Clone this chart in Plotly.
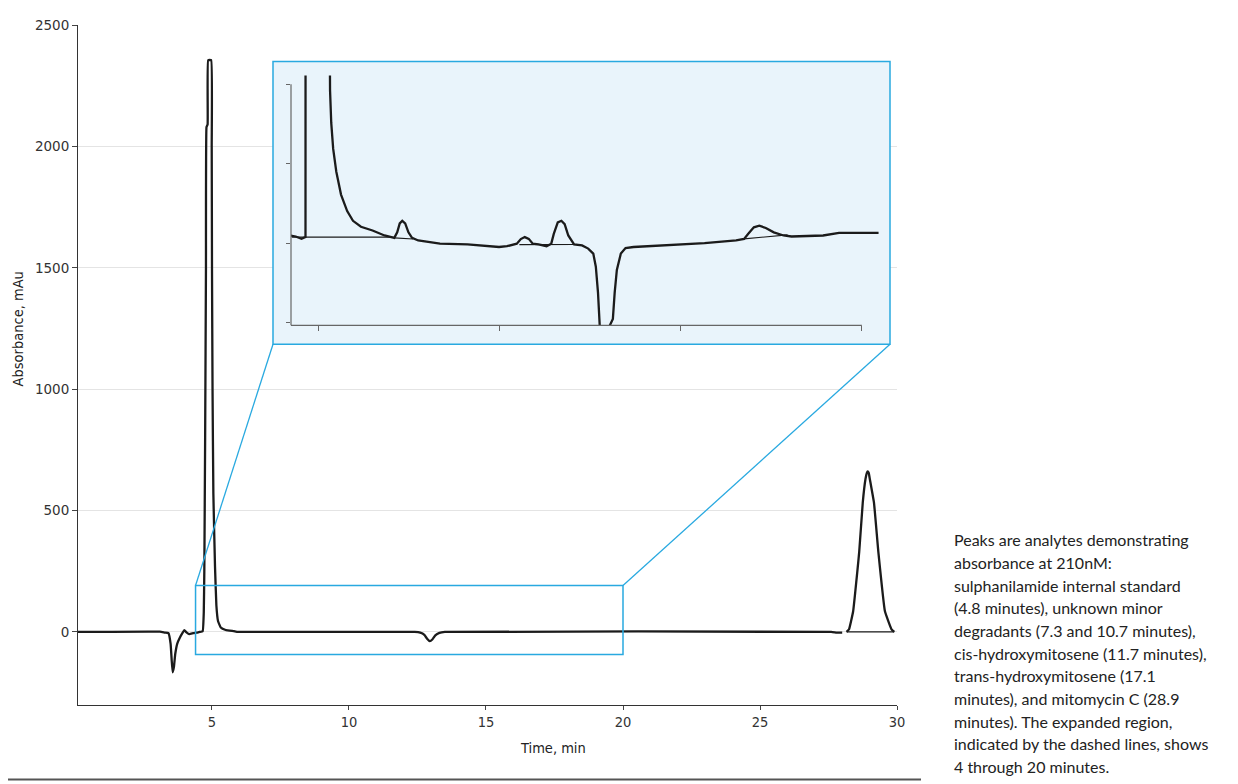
import plotly.graph_objects as go

# ---------------- data ----------------
# main chromatogram: time (min) / absorbance (mAu)
main_time = [0.11, 3.10, 3.28, 3.41, 3.49, 3.53, 3.565, 3.61, 3.66, 3.73, 3.83, 3.93, 3.99,
             4.08, 4.17, 4.32, 4.44, 4.55, 4.66, 4.70, 4.72, 4.75, 4.78, 4.80, 4.84, 4.86,
             4.97, 4.99, 5.00, 5.02, 5.05, 5.11, 5.16, 5.22, 5.32, 5.50, 5.80, 5.95,
             12.40, 12.60, 12.75, 12.85, 12.95, 13.05, 13.15, 13.30, 13.50,
             27.60, 27.80, 28.00, None,
             28.16, 28.25, 28.40, 28.62, 28.75, 28.85, 28.90, 28.93, 28.97, 29.00, 29.16,
             29.32, 29.56, 29.80, 29.90]
main_abs = [0, 1, -3, -5, -49, -118, -166, -145, -90, -49, -23, -3, 7,
            -3, -9, -5, -3, 0, 3, 80, 250, 800, 1500, 2080, 2090, 2355,
            2355, 2000, 1500, 1000, 570, 270, 110, 45, 18, 8, 3, 0,
            0, -3, -12, -28, -38, -30, -14, -4, 0,
            0, -3, -3, None,
            0, 11, 85, 329, 532, 630, 655, 661, 655, 635, 532,
            329, 85, 11, 0]
# integration baseline under the mitomycin C peak
main_base_time = [28.16, 29.90]
main_base_abs = [0, 0]

# expanded region (inset), 4-20 min
inset_time = [4.22, 4.38, 4.54, 4.63, 4.65, 4.68, 5.28, 5.305, 5.327, 5.36, 5.414, 5.50,
              5.63, 5.80, 5.96, 6.18, 6.50, 6.83, 7.05, 7.10, 7.18, 7.25, 7.32, 7.40,
              7.49, 7.59, 7.76, 8.36, 9.12, 9.99, 10.21, 10.48, 10.59, 10.70, 10.81,
              10.92, 11.08, 11.30, 11.43, 11.50, 11.61, 11.71, 11.80, 11.90, 12.06,
              12.28, 12.45, 12.59, 12.66, 12.72, 12.77, 12.88, 13.02, 13.13, 13.18,
              13.24, 13.35, 13.48, 13.70, 14.57, 15.66, 16.53, 16.75, 16.86, 17.02,
              17.17, 17.35, 17.57, 17.84, 18.06, 18.93, 19.37, 20.02, 20.46]
inset_abs = [3.8, 3.3, 2.1, 2.6, 3.0, 2355, 2355, 84.4, 77.0, 60.6, 47.4, 35.9,
             24.4, 16.1, 11.2, 8.2, 6.3, 3.8, 2.5, 2.6, 5.4, 9.9, 11.2, 9.9,
             5.4, 2.6, 1.3, -0.3, -0.7, -2.0, -1.6, -0.3, 2.0, 3.0, 2.1,
             -0.3, -0.7, -1.6, -0.3, 4.6, 10.4, 11.2, 9.5, 3.8, -0.7,
             -1.2, -2.8, -5.3, -11.9, -25.0, -42.5, -43.0, -42.5, -38.2, -25.0,
             -13.5, -5.3, -2.5, -2.0, -1.2, 0.0, 1.3, 2.1, 4.6, 7.9,
             8.7, 7.6, 5.4, 3.8, 3.3, 3.8, 5.1, 5.1, 5.1]
# integration baselines drawn in the inset (segments split by None)
inset_base_time = [4.27, 7.05, None, 7.10, 7.62, None, 10.55, 12.06, None, 16.75, 17.95]
inset_base_abs = [3.0, 3.0, None, 2.6, 2.0, None, -0.8, -0.7, None, 2.1, 4.1]

x_ticks = [5, 10, 15, 20, 25, 30]
y_ticks = [0, 500, 1000, 1500, 2000, 2500]
inset_x_ticks = [5, 10, 15, 20]
inset_y_ticks = [-40, 0, 40, 80]

zoom_start, zoom_end = 4.4, 20.0
zoom_low, zoom_high = -93, 191

caption_lines = [
    "Peaks are analytes demonstrating",
    "absorbance at 210nM:",
    "sulphanilamide internal standard",
    "(4.8 minutes), unknown minor",
    "degradants (7.3 and 10.7 minutes),",
    "cis-hydroxymitosene (11.7 minutes),",
    "trans-hydroxymitosene (17.1",
    "minutes), and mitomycin C (28.9",
    "minutes). The expanded region,",
    "indicated by the dashed lines, shows",
    "4 through 20 minutes.",
]

# ---------------- layout geometry (page pixels) ----------------
W, H = 1238, 784
PAGE_OFF = 8          # default body margin of the html page
L, R, T, B = 78, 341, 17, 79
PW, PH = W - L - R, H - T - B
X_RANGE = [0.11, 30]
Y_RANGE = [-301, 2500]


def px2x(px):
    return X_RANGE[0] + (px - L) / PW * (X_RANGE[1] - X_RANGE[0])


def py2y(py):
    return Y_RANGE[0] + (H - B - py) / PH * (Y_RANGE[1] - Y_RANGE[0])


def pxp(px):
    return (px - L) / PW


def pyp(py):
    return (H - B - py) / PH


BLUE = "#29a9e0"
INK = "#1b1b1b"
COND = "DejaVu Sans Condensed, Liberation Sans Narrow, Roboto Condensed, sans-serif"

fig = go.Figure()
fig.add_trace(go.Scatter(x=main_time, y=main_abs, mode="lines",
                         line=dict(color=INK, width=2.3, shape="spline", smoothing=0.3),
                         connectgaps=False, hoverinfo="skip", showlegend=False))
fig.add_trace(go.Scatter(x=main_base_time, y=main_base_abs, mode="lines",
                         line=dict(color=INK, width=1.2), hoverinfo="skip",
                         showlegend=False))
fig.add_trace(go.Scatter(x=inset_base_time, y=inset_base_abs, mode="lines",
                         line=dict(color=INK, width=1.1), connectgaps=False,
                         xaxis="x2", yaxis="y2", hoverinfo="skip", showlegend=False))
fig.add_trace(go.Scatter(x=inset_time, y=inset_abs, mode="lines",
                         line=dict(color=INK, width=2.3), xaxis="x2", yaxis="y2",
                         hoverinfo="skip", showlegend=False))

INSET_X_RANGE = [4.25, 20.5]
INSET_Y_RANGE = [-41.5, 84.4]

fig.update_layout(
    width=W - PAGE_OFF, height=H - PAGE_OFF,
    margin=dict(l=L - PAGE_OFF, r=R, t=T - PAGE_OFF, b=B),
    paper_bgcolor="white", plot_bgcolor="rgba(0,0,0,0)",
    showlegend=False,
    xaxis=dict(range=X_RANGE, tickvals=x_ticks, ticks="outside", ticklen=4,
               tickcolor="#444", showline=True, linecolor="#333", linewidth=1,
               showgrid=False, zeroline=False,
               tickfont=dict(family=COND, size=14.5, color="#333")),
    yaxis=dict(range=Y_RANGE, tickvals=y_ticks, ticks="outside", ticklen=5,
               tickcolor="#444", showline=True, linecolor="#333", linewidth=1,
               showgrid=True, gridcolor="#e4e4e4", gridwidth=1, zeroline=False,
               tickfont=dict(family="DejaVu Sans, sans-serif", size=13.5, color="#333")),
    xaxis2=dict(domain=[pxp(291), pxp(880)], anchor="y2", range=INSET_X_RANGE,
                tickvals=inset_x_ticks, ticks="outside", ticklen=5, tickcolor="#666",
                showticklabels=False, showline=False, showgrid=False, zeroline=False),
    yaxis2=dict(domain=[pyp(321), pyp(68)], anchor="x2", range=INSET_Y_RANGE,
                tickvals=inset_y_ticks, ticks="outside", ticklen=4, tickcolor="#666",
                showticklabels=False, showline=False, showgrid=False, zeroline=False),
)

shapes = [
    # inset panel background
    dict(type="rect", xref="x", yref="y", x0=px2x(273), x1=px2x(890),
         y0=py2y(340), y1=py2y(54), fillcolor="#e9f4fb",
         line=dict(color=BLUE, width=1.5), layer="between"),
    # inset axis lines
    dict(type="line", xref="x2 domain", yref="y2", x0=0, x1=0,
         y0=INSET_Y_RANGE[0], y1=inset_y_ticks[-1], line=dict(color="#666", width=1.2)),
    dict(type="line", xref="x2", yref="y2 domain", x0=INSET_X_RANGE[0],
         x1=inset_x_ticks[-1], y0=0, y1=0, line=dict(color="#666", width=1.2)),
    # zoomed region on the main chromatogram
    dict(type="rect", xref="x", yref="y", x0=zoom_start, x1=zoom_end,
         y0=zoom_low, y1=zoom_high, line=dict(color=BLUE, width=1.5),
         fillcolor="rgba(0,0,0,0)"),
    dict(type="line", xref="x", yref="y", x0=zoom_start, y0=zoom_high,
         x1=px2x(273), y1=py2y(340), line=dict(color=BLUE, width=1.3)),
    dict(type="line", xref="x", yref="y", x0=zoom_end, y0=zoom_high,
         x1=px2x(890), y1=py2y(340), line=dict(color=BLUE, width=1.3)),
    # bottom rule
    dict(type="line", xref="paper", yref="paper", x0=pxp(PAGE_OFF), x1=pxp(921),
         y0=pyp(780.5), y1=pyp(780.5), line=dict(color="#555", width=2)),
]
fig.update_layout(shapes=shapes)

annotations = [
    dict(text="Absorbance, mAu", xref="paper", yref="paper", x=pxp(18), y=pyp(325),
         textangle=-90, showarrow=False, xanchor="center", yanchor="middle",
         font=dict(family=COND, size=14.5, color="#222")),
    dict(text="Time, min", xref="paper", yref="paper", x=pxp(553), y=pyp(748),
         showarrow=False, xanchor="center", yanchor="middle",
         font=dict(family=COND, size=14.5, color="#222")),
]
for i, line in enumerate(caption_lines):
    annotations.append(dict(text=line, xref="paper", yref="paper", x=pxp(952),
                            y=pyp(538 + 22.9 * i), showarrow=False, xanchor="left",
                            yanchor="middle",
                            font=dict(family="Lato, Open Sans, sans-serif", size=16,
                                      color="#222")))
fig.update_layout(annotations=annotations)

fig.write_html("out.html")
